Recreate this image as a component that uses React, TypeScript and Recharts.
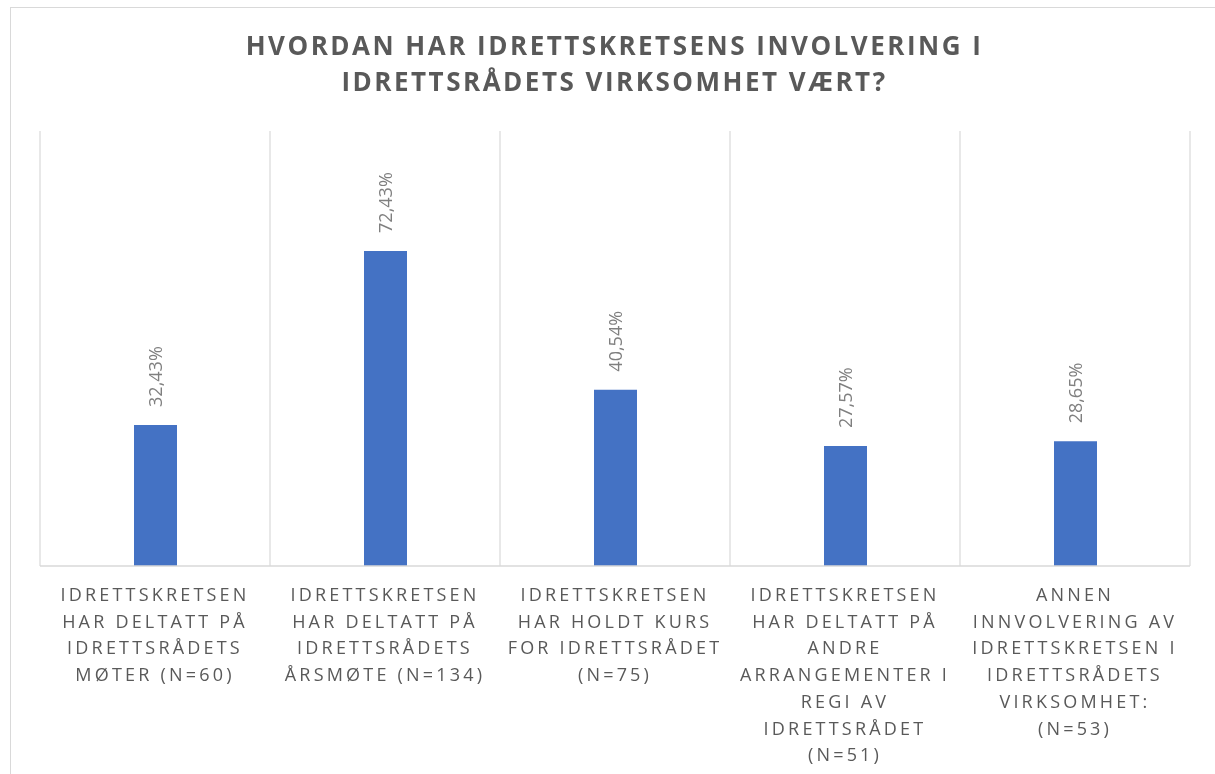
import React from "react";
import { BarChart, Bar, XAxis, YAxis, CartesianGrid, LabelList } from "recharts";

const titleLines = ["HVORDAN HAR IDRETTSKRETSENS INVOLVERING I", "IDRETTSRÅDETS VIRKSOMHET VÆRT?"];

const categories = [
  "IDRETTSKRETSEN HAR DELTATT PÅ IDRETTSRÅDETS MØTER (N=60)",
  "IDRETTSKRETSEN HAR DELTATT PÅ IDRETTSRÅDETS ÅRSMØTE (N=134)",
  "IDRETTSKRETSEN HAR HOLDT KURS FOR IDRETTSRÅDET (N=75)",
  "IDRETTSKRETSEN HAR DELTATT PÅ ANDRE ARRANGEMENTER I REGI AV IDRETTSRÅDET (N=51)",
  "ANNEN INNVOLVERING AV IDRETTSKRETSEN I IDRETTSRÅDETS VIRKSOMHET: (N=53)",
];

const percentages = [32.43, 72.43, 40.54, 27.57, 28.65];

const chartData = categories.map((name, i) => ({ name, value: percentages[i] }));

const FONT = '"Open Sans", "DejaVu Sans", sans-serif';

// simple greedy wrap, the way Excel broke the category text
function wrap(text: string, maxChars = 16): string[] {
  const lines: string[] = [];
  let cur = "";
  for (const w of text.split(" ")) {
    if (!cur) cur = w;
    else if ((cur + " " + w).length <= maxChars) cur += " " + w;
    else {
      lines.push(cur);
      cur = w;
    }
  }
  if (cur) lines.push(cur);
  return lines;
}

// grid lines sit on the category boundaries, not the centres
function boundaryLines({ offset }: any): number[] {
  const n = categories.length;
  const out: number[] = [];
  for (let i = 0; i <= n; i++) out.push(offset.left + (i * offset.width) / n);
  return out;
}

function CategoryTick(props: any) {
  const { x, y, payload } = props;
  const lines = wrap(String(payload.value));
  return (
    <text x={x} y={y} textAnchor="middle" fill="#595959" fontSize={18} fontFamily={FONT} letterSpacing={3.2}>
      {lines.map((l, i) => (
        <tspan key={i} x={x} y={y + 35 + i * 26.7}>
          {l}
        </tspan>
      ))}
    </text>
  );
}

function ValueLabel(props: any) {
  const { x, y, width, value } = props;
  const cx = x + width / 2;
  const ty = y - 18;
  const txt = value.toFixed(2).replace(".", ",") + "%";
  return (
    <text
      x={cx}
      y={ty}
      transform={`rotate(-90 ${cx} ${ty})`}
      textAnchor="start"
      dominantBaseline="central"
      fill="#7f7f7f"
      fontSize={18}
      fontFamily={FONT}
    >
      {txt}
    </text>
  );
}

export default function App() {
  return (
    <div style={{ position: "relative", width: 1199, height: 758 }}>
      <div
        style={{
          position: "fixed",
          left: 10,
          top: 7,
          width: 1215,
          height: 800,
          border: "1px solid #d9d9d9",
          pointerEvents: "none",
        }}
      />
      <div
        style={{
          position: "absolute",
          left: 10,
          top: 19,
          width: 1193,
          textAlign: "center",
          fontFamily: FONT,
          fontWeight: 700,
          fontSize: 26,
          lineHeight: "36px",
          letterSpacing: 2.5,
          color: "#595959",
        }}
      >
        {titleLines.map((t) => (
          <div key={t}>{t}</div>
        ))}
      </div>
      <BarChart width={1199} height={758} data={chartData} margin={{ top: 123, right: 17, left: 32, bottom: 0 }}>
        <CartesianGrid
          vertical
          horizontal={false}
          stroke="#d9d9d9"
          strokeWidth={1.2}
          verticalCoordinatesGenerator={boundaryLines}
        />
        <XAxis
          dataKey="name"
          interval={0}
          height={200}
          tickLine={false}
          tickSize={0}
          tickMargin={0}
          axisLine={{ stroke: "#d9d9d9", strokeWidth: 1.5 }}
          tick={<CategoryTick />}
        />
        <YAxis hide domain={[0, 100]} />
        <Bar dataKey="value" fill="#4472C4" barSize={43} isAnimationActive={false}>
          <LabelList dataKey="value" content={<ValueLabel />} />
        </Bar>
      </BarChart>
    </div>
  );
}
